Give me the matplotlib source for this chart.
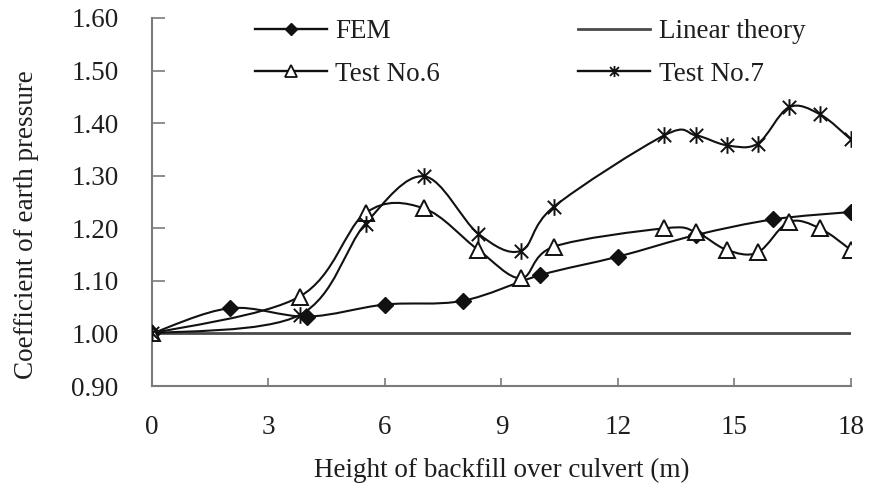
import matplotlib
matplotlib.use("Agg")
import matplotlib.pyplot as plt
from matplotlib.path import Path
from matplotlib.patches import PathPatch
from matplotlib.lines import Line2D
import numpy as np

# backfill height (m) and earth pressure coefficient
fem_x = [0, 2, 4, 6, 8, 10, 12, 14, 16, 18]
fem_y = [1.00, 1.048, 1.032, 1.055, 1.062, 1.111, 1.146, 1.187, 1.217, 1.231]

test_x = [0, 3.8, 5.5, 7.0, 8.4, 9.5, 10.35, 13.2, 14.0, 14.8, 15.6, 16.4, 17.2, 18.0]
test6_y = [1.00, 1.070, 1.229, 1.238, 1.159, 1.105, 1.165, 1.200, 1.193, 1.159,
           1.154, 1.212, 1.200, 1.159]
test7_y = [1.00, 1.035, 1.209, 1.299, 1.190, 1.157, 1.241, 1.377, 1.377, 1.358,
           1.361, 1.430, 1.417, 1.369]

linear_x = [0, 18]
linear_y = [1.00, 1.00]

x_ticks = [0, 3, 6, 9, 12, 15, 18]
y_ticks = [0.90, 1.00, 1.10, 1.20, 1.30, 1.40, 1.50, 1.60]

plt.rcParams['font.family'] = ['Liberation Serif', 'DejaVu Serif']
FS = 19.5
TXT = '#1e1e1e'
INK = '#111111'
AXC = '#7a7a7a'

# asterisk marker: vertical bar plus an X
star = Path([(0, -1), (0, 1), (-0.8, -0.8), (0.8, 0.8), (-0.8, 0.8), (0.8, -0.8)],
            [Path.MOVETO, Path.LINETO, Path.MOVETO, Path.LINETO, Path.MOVETO, Path.LINETO])


def smooth_path(xs, ys):
    # spreadsheet-style smoothed line: cubic Bezier through every point
    p = np.column_stack([xs, ys])
    n = len(p)
    verts = [p[0]]
    codes = [Path.MOVETO]
    for i in range(n - 1):
        p0 = p[max(i - 1, 0)]
        p1 = p[i]
        p2 = p[i + 1]
        p3 = p[min(i + 2, n - 1)]
        verts += [p1 + (p2 - p0) / 6, p2 - (p3 - p1) / 6, p2]
        codes += [Path.CURVE4] * 3
    return Path(verts, codes)


fig = plt.figure(figsize=(8.7, 4.9), dpi=100)
ax = fig.add_axes([0.1747, 0.2122, 0.8033, 0.7511])

ax.plot(linear_x, linear_y, color='#4a4a4a', lw=2.0, solid_capstyle='butt', zorder=2)

for xs, ys in [(fem_x, fem_y), (test_x, test6_y), (test_x, test7_y)]:
    ax.add_patch(PathPatch(smooth_path(xs, ys), fill=False, edgecolor=INK, lw=1.5, zorder=3))

ax.plot(fem_x, fem_y, ls='none', marker='D', ms=8, mfc=INK, mec=INK, zorder=4)
ax.plot(test_x, test6_y, ls='none', marker='^', ms=11, mfc='white', mec=INK, mew=1.4, zorder=4)
ax.plot(test_x, test7_y, ls='none', marker=star, ms=12, mfc='none', mec=INK, mew=1.4, zorder=5)

ax.set_xlim(0, 18)
ax.set_ylim(0.90, 1.60)
ax.set_xticks(x_ticks)
ax.set_yticks(y_ticks)
ax.set_yticklabels([f'{v:.2f}' for v in y_ticks])

for s in ['top', 'right']:
    ax.spines[s].set_visible(False)
for s in ['left', 'bottom']:
    ax.spines[s].set_color(AXC)
    ax.spines[s].set_linewidth(1.5)

ax.tick_params(axis='both', direction='in', width=1.2, color=AXC,
               labelsize=FS, labelcolor=TXT)
ax.tick_params(axis='x', pad=21, length=6)
ax.tick_params(axis='y', pad=24, length=9)

ax.set_xlabel('Height of backfill over culvert (m)', fontsize=FS, color=TXT, labelpad=13)
ax.set_ylabel('Coefficient of earth pressure', fontsize=FS, color=TXT)
ax.yaxis.set_label_coords(-0.162, 0.4375)

# legend keys use smaller markers than the plotted points
handles = [
    Line2D([], [], color=INK, lw=1.7, marker='D', ms=6, mfc=INK, mec=INK),
    Line2D([], [], color=INK, lw=1.7, marker='^', ms=8, mfc='white', mec=INK, mew=1.3),
    Line2D([], [], color='#4a4a4a', lw=2.0),
    Line2D([], [], color=INK, lw=1.7, marker=star, ms=8, mfc='none', mec=INK, mew=1.3),
]
labels = ['FEM', 'Test No.6', 'Linear theory', 'Test No.7']
leg = ax.legend(handles, labels, ncol=2, frameon=False, fontsize=FS,
                loc='upper left', bbox_to_anchor=(0.147, 0.997),
                handlelength=2.67, handletextpad=0.3, columnspacing=5.1,
                labelspacing=0.65, borderpad=0, borderaxespad=0)
for t in leg.get_texts():
    t.set_color(TXT)

fig.savefig('out.png', dpi=100)
